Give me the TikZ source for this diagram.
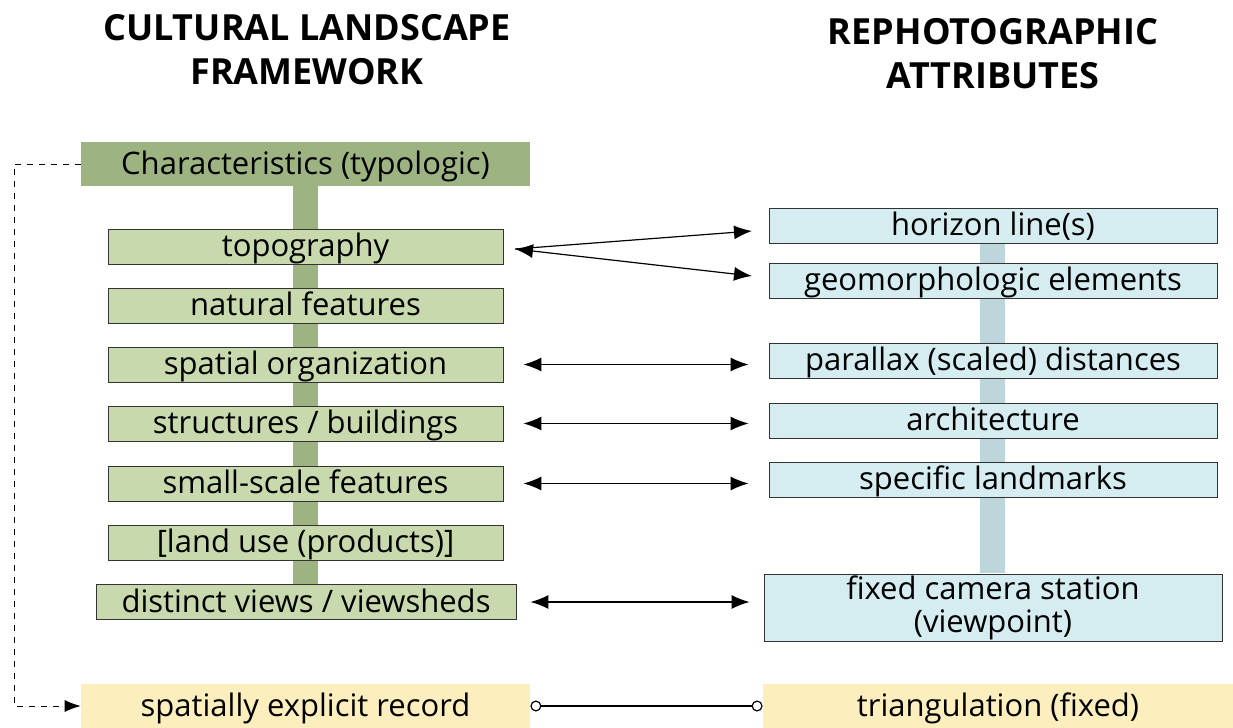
\documentclass[tikz,border=0pt]{standalone}
\usepackage{fontspec}
\setmainfont{Open Sans}
\usetikzlibrary{arrows.meta}
\definecolor{darkgreen}{HTML}{9DB381}
\definecolor{lightgreen}{HTML}{C8D9AE}
\definecolor{lightblue}{HTML}{D5EDF0}
\definecolor{barblue}{HTML}{BCD6DC}
\definecolor{lightyellow}{HTML}{FDEEBD}
\begin{document}
\begin{tikzpicture}[x=0.5pt,y=-0.5pt,
  boxfont/.style={font=\fontsize{15.5}{17}\selectfont,text height=13pt,text depth=3pt},
  greenbox/.style={boxfont,draw=black!80,fill=lightgreen,minimum width=197.5pt,minimum height=17.5pt,inner sep=0pt},
  bluebox/.style={boxfont,draw=black!80,fill=lightblue,minimum width=224pt,minimum height=17.5pt,inner sep=0pt},
  headbox/.style={boxfont,minimum width=224.5pt,minimum height=22pt,inner sep=0pt},
  title/.style={align=center,font=\fontsize{18}{22}\selectfont\bfseries},
  link/.style={semithick,{Latex[length=9pt,width=7pt]}-{Latex[length=9pt,width=7pt]}}]
\useasboundingbox (0,0) rectangle (1233,728);
% titles
\node[title] (lefttitle) at (307,50) {CULTURAL LANDSCAPE\\FRAMEWORK};
\node[title] (righttitle) at (993,54) {REPHOTOGRAPHIC\\ATTRIBUTES};
% vertical bars
\fill[darkgreen] (293,186) rectangle (318,585);
\fill[barblue] (980,243) rectangle (1005,573);
% left column
\node[headbox,fill=darkgreen] (charac) at (305.5,164) {Characteristics (typologic)};
\node[greenbox] (topo) at (305.5,246.5) {topography};
\node[greenbox] (natural) at (305.5,305.5) {natural features};
\node[greenbox] (spatial) at (305.5,364.5) {spatial organization};
\node[greenbox] (struct) at (305.5,423.5) {structures / buildings};
\node[greenbox] (small) at (305.5,483.5) {small-scale features};
\node[greenbox] (landuse) at (305.5,542.5) {[land use (products)]};
\node[greenbox,minimum width=210pt] (views) at (306,602) {distinct views / viewsheds};
\node[headbox,fill=lightyellow] (record) at (305.5,706) {spatially explicit record};
% right column
\node[bluebox] (horizon) at (993,225.5) {horizon line(s)};
\node[bluebox] (geomorph) at (993,280.5) {geomorphologic elements};
\node[bluebox] (parallax) at (993,360.5) {parallax (scaled) distances};
\node[bluebox] (archi) at (993,420.5) {architecture};
\node[bluebox] (landmark) at (993,479.5) {specific landmarks};
\node[bluebox,minimum width=229pt,minimum height=33.5pt,align=center,text height=,text depth=,font=\fontsize{15.5}{16.5}\selectfont] (camera) at (993,607.5) {fixed camera station\\(viewpoint)};
\node[headbox,fill=lightyellow,minimum width=235pt] (triang) at (998,706) {triangulation (fixed)};
% connectors
\coordinate (topoend) at (515,249);
\draw[semithick,-{Latex[length=9pt,width=7pt]}] (topoend) -- (752,231);
\draw[link] (topoend) -- (752,276);
\draw[link] ([xshift=10pt]spatial.east) -- ([xshift=-10pt]parallax.west|-spatial.east);
\draw[link] ([xshift=10pt]struct.east) -- ([xshift=-10pt]archi.west|-struct.east);
\draw[link] ([xshift=10pt]small.east) -- ([xshift=-10pt]landmark.west|-small.east);
\draw[link] ([xshift=7pt]views.east) -- ([xshift=-7pt]camera.west|-views.east);
\draw[dashed,-{Latex[length=8pt,width=6pt]}] (charac.west) -| (14,706) -- (record.west);
\draw[semithick,{Circle[open,length=5.5pt]}-{Circle[open,length=5.5pt]}] (record.east) -- (triang.west);
\end{tikzpicture}
\end{document}
